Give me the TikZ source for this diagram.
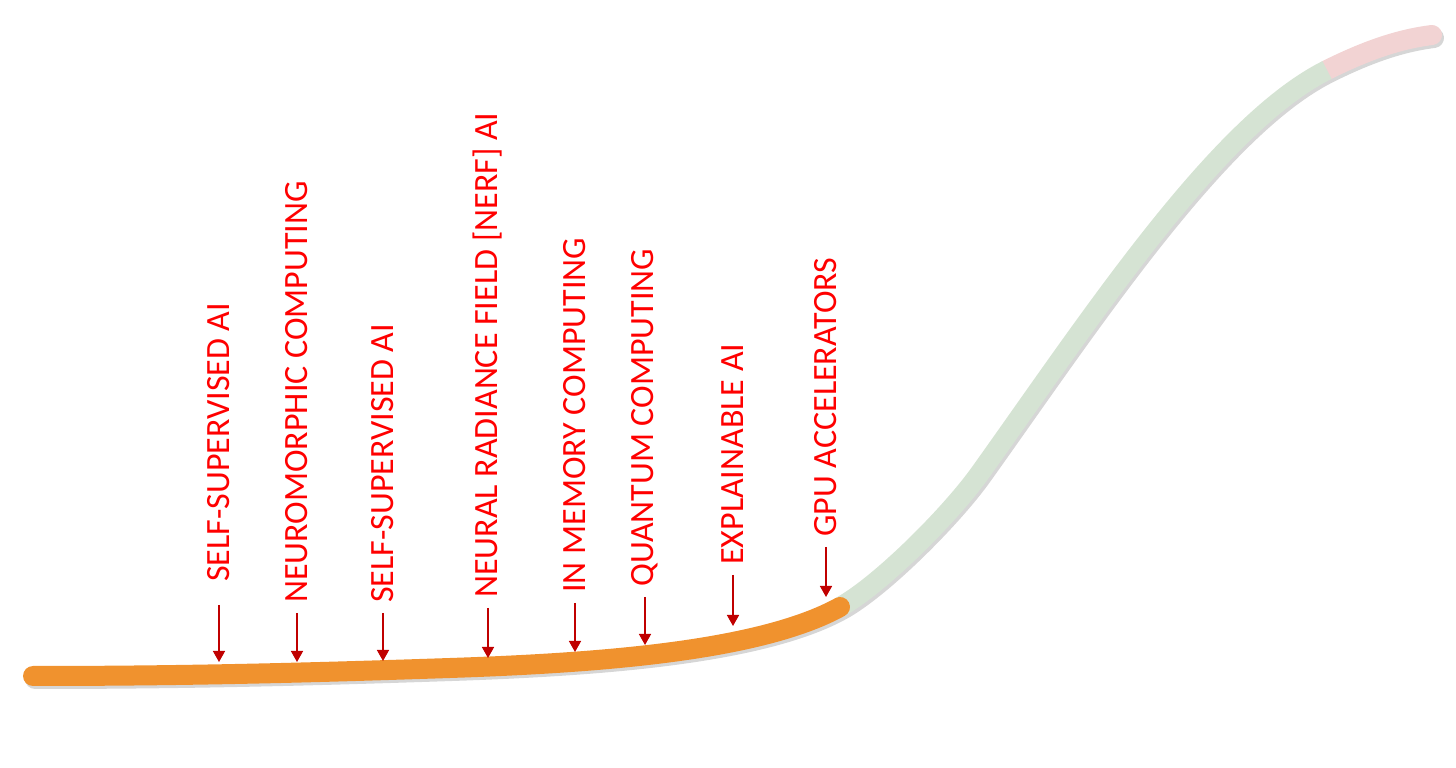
\documentclass[tikz,border=0pt]{standalone}
\usepackage{fontspec}
\setmainfont{Carlito}
\usetikzlibrary{arrows.meta}

\definecolor{hypeorange}{HTML}{F0922E}
\definecolor{hypegreen}{HTML}{D5E3D3}
\definecolor{hypepink}{HTML}{F2D3D3}
\definecolor{techred}{HTML}{FF0000}
\definecolor{pointred}{HTML}{C00000}

\tikzset{
  tech/.style={text=techred, font=\fontsize{34}{40}\selectfont, rotate=90, anchor=west, inner sep=0pt},
  pointer/.style={draw=pointred, line width=1.5pt, -{Triangle[width=12pt,length=11pt]}, shorten <=10pt},
  curve/.style={line width=20pt, line cap=round},
  shade/.style={curve, draw=black, opacity=0.16, shift={(2pt,-3pt)}}
}

\begin{document}
\begin{tikzpicture}[x=1pt,y=1pt]
\useasboundingbox (0,0) rectangle (1456,768);

% shadow under the curve
\draw[shade] (33,92) .. controls (200,92) and (330,96) .. (450,100)
  .. controls (600,105) and (760,117) .. (840,161)
  .. controls (880,183) and (950,253) .. (980,295)
  .. controls (1090,449) and (1217,643) .. (1327,698)
  .. controls (1367,718) and (1400,729) .. (1432,733);

% the hype curve
\draw[curve, draw=hypepink] (1327,698) .. controls (1367,718) and (1400,729) .. (1432,733);
\draw[curve, line cap=butt, draw=hypegreen] (840,161) .. controls (880,183) and (950,253) .. (980,295)
  .. controls (1090,449) and (1217,643) .. (1327,698);
\draw[curve, draw=hypeorange] (33,92) .. controls (200,92) and (330,96) .. (450,100)
  .. controls (600,105) and (760,117) .. (840,161);

% labels
\node[tech] (selfa) at (219,186) {SELF-SUPERVISED AI};
\node[tech] (neuro) at (297,165) {NEUROMORPHIC COMPUTING};
\node[tech] (selfb) at (383,165) {SELF-SUPERVISED AI};
\node[tech] (nerf) at (488,170) {NEURAL RADIANCE FIELD [NERF] AI};
\node[tech] (inmem) at (575,175) {IN MEMORY COMPUTING};
\node[tech] (quant) at (645,181) {QUANTUM COMPUTING};
\node[tech] (expl) at (733,203) {EXPLAINABLE AI};
\node[tech] (gpu) at (826,231) {GPU ACCELERATORS};

% points on the curve
\coordinate (c1) at (219,106);
\coordinate (c2) at (297,106);
\coordinate (c3) at (383,107);
\coordinate (c4) at (488,110);
\coordinate (c5) at (575,116);
\coordinate (c6) at (645,123);
\coordinate (c7) at (733,142);
\coordinate (c8) at (826,171);

\draw[pointer, shorten <=23pt] (selfa.west) -- (c1);
\draw[pointer] (neuro.west) -- (c2);
\draw[pointer] (selfb.west) -- (c3);
\draw[pointer] (nerf.west) -- (c4);
\draw[pointer] (inmem.west) -- (c5);
\draw[pointer] (quant.west) -- (c6);
\draw[pointer] (expl.west) -- (c7);
\draw[pointer] (gpu.west) -- (c8);
\end{tikzpicture}
\end{document}
